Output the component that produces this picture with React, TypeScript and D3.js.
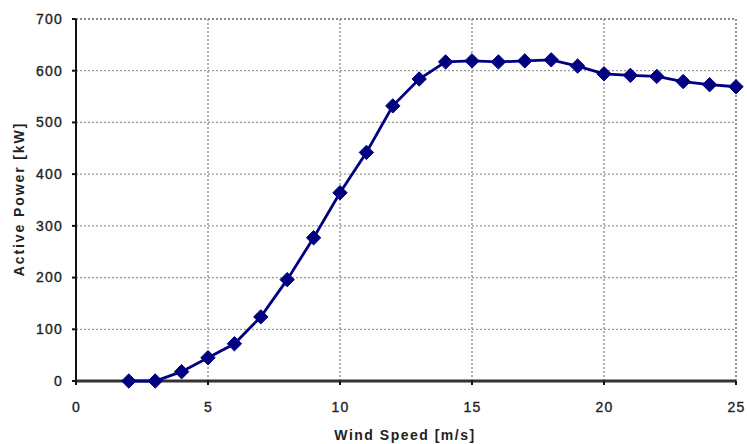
import React from "react";
import * as d3 from "d3";

const windSpeed = [2, 3, 4, 5, 6, 7, 8, 9, 10, 11, 12, 13, 14, 15, 16, 17, 18, 19, 20, 21, 22, 23, 24, 25];
const activePower = [0, 0, 18, 45, 72, 124, 196, 277, 364, 442, 532, 584, 617, 619, 617, 619, 621, 609, 594, 591, 589, 579, 573, 569];
const xTicks = [0, 5, 10, 15, 20, 25];
const yTicks = [0, 100, 200, 300, 400, 500, 600, 700];

const W = 747, H = 444;
const left = 76, right = 736, top = 19, bottom = 381;

export default function App() {
  const x = d3.scaleLinear().domain([0, 25]).range([left, right]);
  const y = d3.scaleLinear().domain([0, 700]).range([bottom, top]);
  const line = d3.line<number>().x((_, i) => x(windSpeed[i])).y((d) => y(d));
  const font = "Arial, 'Liberation Sans', sans-serif";
  const diamond = (cx: number, cy: number, r: number) =>
    `M${cx},${cy - r}L${cx + r},${cy}L${cx},${cy + r}L${cx - r},${cy}Z`;
  return (
    <svg width={W} height={H} style={{ position: "absolute", left: 0, top: 0 }}>
      <rect width={W} height={H} fill="#fff" />
      {yTicks.filter((t) => t > 0).map((t) => (
        <line key={"gy" + t} x1={left} x2={right} y1={y(t)} y2={y(t)}
          stroke={t === 700 ? "#666" : "#999"} strokeWidth={1.3} strokeDasharray="2,2" />
      ))}
      {xTicks.filter((t) => t > 0).map((t) => (
        <line key={"gx" + t} x1={x(t)} x2={x(t)} y1={top} y2={bottom}
          stroke={t === 25 ? "#555" : "#888"} strokeWidth={1.3} strokeDasharray="2,2" />
      ))}
      <line x1={left} x2={left} y1={top} y2={bottom} stroke="#111" strokeWidth={2} />
      <line x1={left} x2={right} y1={bottom} y2={bottom} stroke="#333" strokeWidth={3} />
      {yTicks.map((t) => (
        <g key={"ty" + t}>
          <line x1={left - 4} x2={left} y1={y(t)} y2={y(t)} stroke="#111" strokeWidth={2} />
          <text x={63} y={y(t)} dy="0.35em" textAnchor="end" fontFamily={font} fontSize={14}
            letterSpacing={1.2} fill="#222" stroke="#222" strokeWidth={0.35}>{t}</text>
        </g>
      ))}
      {xTicks.map((t) => (
        <g key={"tx" + t}>
          <line x1={x(t)} x2={x(t)} y1={bottom} y2={bottom + 4} stroke="#111" strokeWidth={2} />
          <text x={x(t) + 0.6} y={407} dy="0.35em" textAnchor="middle" fontFamily={font} fontSize={14}
            letterSpacing={1.2} fill="#222" stroke="#222" strokeWidth={0.35}>{t}</text>
        </g>
      ))}
      <path d={line(activePower) || ""} fill="none" stroke="#000080" strokeWidth={2.8} />
      {activePower.map((v, i) => (
        <path key={"m" + i} d={diamond(x(windSpeed[i]), y(v), 7.2)} fill="#000080" stroke="#000080" strokeWidth={1} />
      ))}
      <text x={405} y={435} dy="0.35em" textAnchor="middle" fontFamily={font} fontSize={14}
        letterSpacing={1.5} fontWeight="bold" fill="#222">Wind Speed [m/s]</text>
      <text transform={`translate(19,199) rotate(-90)`} dy="0.35em" textAnchor="middle" fontFamily={font}
        fontSize={14} letterSpacing={1.9} fontWeight="bold" fill="#222">Active Power [kW]</text>
    </svg>
  );
}
